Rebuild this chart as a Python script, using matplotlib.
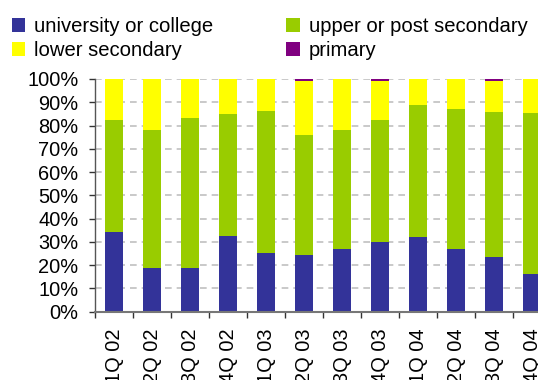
import matplotlib
matplotlib.use("Agg")
import matplotlib.pyplot as plt
from matplotlib.ticker import FixedLocator, PercentFormatter
import numpy as np

plt.rcParams['font.family'] = ['Liberation Sans', 'DejaVu Sans']

quarters = ["1Q 02", "2Q 02", "3Q 02", "4Q 02", "1Q 03", "2Q 03",
            "3Q 03", "4Q 03", "1Q 04", "2Q 04", "3Q 04", "4Q 04"]
university = [34.2, 18.8, 18.8, 32.5, 25.2, 24.4, 26.9, 29.9, 32.1, 26.9, 23.5, 16.2]
upper = [48.2, 59.3, 64.4, 52.5, 61.1, 51.5, 51.2, 52.5, 56.7, 60.2, 62.3, 69.2]
lower = [17.6, 21.9, 16.8, 15.0, 13.7, 23.1, 21.9, 16.6, 11.2, 12.9, 13.2, 14.6]
primary = [0.0, 0.0, 0.0, 0.0, 0.0, 1.0, 0.0, 1.0, 0.0, 0.0, 1.0, 0.0]

series = [
    ("university or college", university, "#333399"),
    ("upper or post secondary", upper, "#99CC00"),
    ("lower secondary", lower, "#FFFF00"),
    ("primary", primary, "#800080"),
]

fig = plt.figure(figsize=(5.38, 3.80), dpi=100)
ax = fig.add_axes([95 / 538, 1 - 311.7 / 380, 456 / 538, (311.7 - 79) / 380])

x = np.arange(len(quarters))
bottom = np.zeros(len(quarters))
handles = {}
for name, vals, color in series:
    v = np.array(vals)
    h = ax.bar(x, v, width=0.47, bottom=bottom, color=color, zorder=2, linewidth=0)
    handles[name] = h
    bottom += v

ax.set_xlim(-0.5, len(quarters) - 0.5)
ax.set_ylim(0, 100)
ax.yaxis.set_major_locator(FixedLocator(np.arange(0, 101, 10)))
ax.yaxis.set_major_formatter(PercentFormatter(decimals=0))
ax.grid(axis='y', color='#C0C0C0', linestyle=(0, (4, 3)), linewidth=1.2, zorder=0)
ax.set_axisbelow(True)

ax.set_xticks(x)
ax.set_xticklabels(quarters, rotation=90)
ax.set_xticks(np.arange(-0.5, len(quarters), 1.0), minor=True)
ax.tick_params(axis='x', which='major', length=0, pad=12, labelsize=14.4)
ax.tick_params(axis='x', which='minor', length=4, width=1, color='#333333', direction='out')
ax.tick_params(axis='y', length=4, width=1, color='#333333', pad=8, labelsize=14.4)

for s in ['top', 'right']:
    ax.spines[s].set_visible(False)
ax.spines['left'].set_color('#555555')
ax.spines['bottom'].set_color('#777777')
ax.spines['left'].set_linewidth(1.0)
ax.spines['bottom'].set_linewidth(1.5)

order = ["university or college", "lower secondary", "upper or post secondary", "primary"]
leg = fig.legend([handles[n] for n in order], order, ncol=2, loc='upper left',
                 bbox_to_anchor=(12 / 538, 1 - 17 / 380), frameon=False,
                 fontsize=14.6, handlelength=0.65, handleheight=0.65,
                 handletextpad=0.45, columnspacing=3.6, labelspacing=0.25,
                 borderpad=0, borderaxespad=0)

fig.savefig("out.png", dpi=100)
